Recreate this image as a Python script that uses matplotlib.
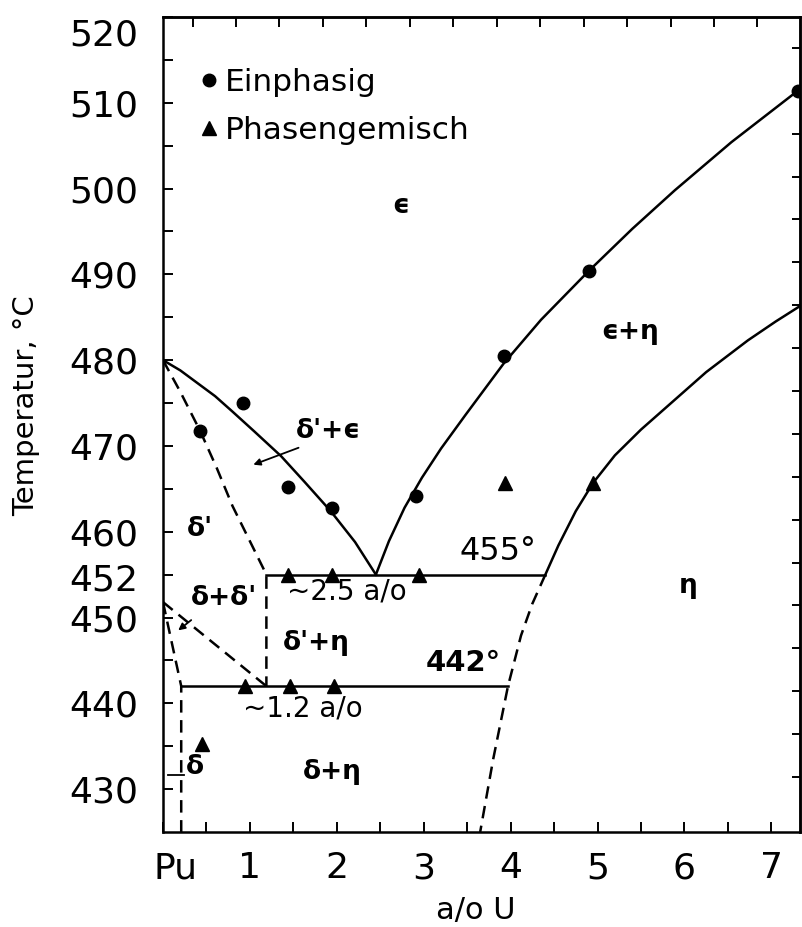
import numpy as np
import matplotlib.pyplot as plt
from matplotlib.transforms import ScaledTranslation

# Pu-U Phasendiagramm, Zusammensetzung in a/o U, Temperatur in °C
# delta'/(delta'+eps) Grenze (durchgezogen)
dp_eps_x = [0.0, 0.20, 0.40, 0.60, 0.80, 1.05, 1.36, 1.63, 1.93, 2.21, 2.45]
dp_eps_t = [480.0, 478.8, 477.3, 475.8, 474.0, 471.7, 468.8, 465.8, 462.4, 458.8, 455.0]
# eps/(eps+eta) Grenze
eps_eta_x = [2.45, 2.60, 2.78, 2.98, 3.20, 3.48, 3.92, 4.35, 4.90, 5.40, 5.89, 6.54, 7.33]
eps_eta_t = [455.0, 458.9, 462.8, 466.3, 469.7, 473.6, 479.6, 484.7, 490.4, 495.3, 499.8, 505.4, 511.6]
# (eps+eta)/eta Grenze
eta_x = [4.40, 4.55, 4.75, 4.95, 5.20, 5.50, 5.78, 6.25, 6.73, 7.05, 7.33]
eta_t = [455.0, 458.4, 462.4, 465.7, 468.9, 471.9, 474.4, 478.6, 482.3, 484.5, 486.3]
# gestrichelte Grenzen
dp_dash_x = [0.0, 0.20, 0.43, 0.62, 0.80, 1.00, 1.19, 1.19]
dp_dash_t = [480.0, 476.3, 471.7, 467.4, 463.0, 458.9, 455.0, 442.0]
dd_upper_x = [0.0, 1.19]
dd_upper_t = [451.8, 442.0]
d_left_x = [0.0, 0.21, 0.21]
d_left_t = [451.8, 442.0, 425.0]
eta_low_x = [4.40, 4.25, 4.12, 3.97, 3.80, 3.65]
eta_low_t = [455.0, 451.6, 447.9, 442.0, 433.5, 425.0]
# Peritektoide / eutektoide Horizontalen
t_peritect = 455.0
peritect_x = [1.19, 4.40]
t_eutect = 442.0
eutect_x = [0.21, 3.97]

# Messpunkte
one_phase_x = [0.43, 0.92, 1.44, 1.95, 2.91, 3.92, 4.90, 7.31]
one_phase_t = [471.7, 475.0, 465.2, 462.8, 464.2, 480.5, 490.4, 511.4]
two_phase_x = [1.44, 1.95, 2.95, 0.94, 1.46, 1.97, 0.45, 3.94, 4.95]
two_phase_t = [455.0, 455.0, 455.0, 442.0, 442.0, 442.0, 435.3, 465.7, 465.7]

x_ticks = [0, 1, 2, 3, 4, 5, 6, 7]
x_labels = ['Pu', '1', '2', '3', '4', '5', '6', '7']
y_ticks = [430, 440, 450, 460, 470, 480, 490, 500, 510, 520]

fig = plt.figure(figsize=(8.02, 9.27), dpi=100)
ax = fig.add_axes([0.2032, 0.1025, 0.7943, 0.8792])
ax.set_xlim(0, 7.33)
ax.set_ylim(425, 520)

lw = 1.8
ax.plot(dp_eps_x, dp_eps_t, color='black', lw=lw)
ax.plot(eps_eta_x, eps_eta_t, color='black', lw=lw)
ax.plot(eta_x, eta_t, color='black', lw=lw)
ax.plot(peritect_x, [t_peritect, t_peritect], color='black', lw=lw)
ax.plot(eutect_x, [t_eutect, t_eutect], color='black', lw=lw)
for xs, ts in [(dp_dash_x, dp_dash_t), (dd_upper_x, dd_upper_t),
               (d_left_x, d_left_t), (eta_low_x, eta_low_t)]:
    ax.plot(xs, ts, color='black', lw=lw, dashes=(5, 3))

ax.plot(one_phase_x, one_phase_t, 'o', color='black', ms=9, label='Einphasig')
ax.plot(two_phase_x, two_phase_t, '^', color='black', ms=10, label='Phasengemisch')

leg = ax.legend(loc='upper left', bbox_to_anchor=(0.058, 0.937), frameon=False,
                numpoints=1, handlelength=0.55, handletextpad=0.25,
                borderpad=0, borderaxespad=0, labelspacing=0.6,
                prop={'size': 22.5})

# Bereichsbeschriftungen
region_labels = [
    ('ϵ', 2.74, 498.0), ('ϵ+η', 5.37, 483.3), ("δ'+ϵ", 1.90, 471.7),
    ("δ'", 0.43, 460.3), ("δ+δ'", 0.70, 452.3), ("δ'+η", 1.76, 447.0),
    ('δ', 0.37, 432.6), ('δ+η', 1.95, 432.0), ('η', 6.04, 453.7),
]
for txt, x, t in region_labels:
    ax.text(x, t, txt, fontsize=19, fontweight='bold', ha='center', va='center')

ax.text(2.11, 453.0, '~2.5 a/o', fontsize=20, ha='center', va='center')
ax.text(1.61, 439.4, '~1.2 a/o', fontsize=20, ha='center', va='center')
ax.text(3.85, 457.7, '455°', fontsize=23, ha='center', va='center')
ax.text(3.45, 444.7, '442°', fontsize=21, fontweight='bold', ha='center', va='center')

arrow = dict(arrowstyle='-|>', color='black', lw=1.3, mutation_scale=10)
ax.annotate('', xy=(1.01, 467.7), xytext=(1.59, 469.9), arrowprops=arrow)
ax.annotate('', xy=(0.15, 448.3), xytext=(0.35, 449.9), arrowprops=arrow)
ax.plot([0.06, 0.24], [431.7, 431.7], color='black', lw=1.3)

# Achsen
ax.set_xticks(x_ticks)
ax.set_xticklabels(x_labels)
ax.set_xticks(np.arange(0.5, 7.3, 1.0), minor=True)
ax.set_yticks(y_ticks)
ax.set_yticks(np.arange(435, 520, 10), minor=True)
ax.tick_params(which='both', direction='in', length=7, width=1.4,
               top=False, right=False)
ax.tick_params(axis='y', which='major', labelsize=26, pad=18)
ax.tick_params(axis='x', which='major', labelsize=26, pad=14)
# oberste Beschriftung etwas tiefer, "Pu" etwas nach rechts
lab520 = ax.get_yticklabels()[-1]
lab520.set_transform(lab520.get_transform() + ScaledTranslation(0, -11 / 72, fig.dpi_scale_trans))
lab_pu = ax.get_xticklabels()[0]
lab_pu.set_transform(lab_pu.get_transform() + ScaledTranslation(9 / 72, 0, fig.dpi_scale_trans))
ax.annotate('452', xy=(0, 452), xycoords=('axes fraction', 'data'),
            xytext=(-18, 14), textcoords='offset points',
            ha='right', va='center', fontsize=26)

top = ax.secondary_xaxis('top')
top.set_xticks(np.arange(0.34, 7.3, 0.5))
top.tick_params(direction='in', length=7, width=1.4, labeltop=False)
right = ax.secondary_yaxis('right')
right.set_yticks(np.arange(431.4, 520, 5))
right.tick_params(direction='in', length=6, width=1.4, labelright=False)
for sp in list(ax.spines.values()) + [top.spines['top'], right.spines['right']]:
    sp.set_linewidth(1.8)

ax.set_xlabel('a/o U', fontsize=22, va='center')
ax.xaxis.set_label_coords(0.491, -0.096)
ax.set_ylabel('Temperatur, °C', fontsize=21, va='center')
ax.yaxis.set_label_coords(-0.215, 0.523)

fig.savefig('out.png', dpi=100, facecolor='white')
